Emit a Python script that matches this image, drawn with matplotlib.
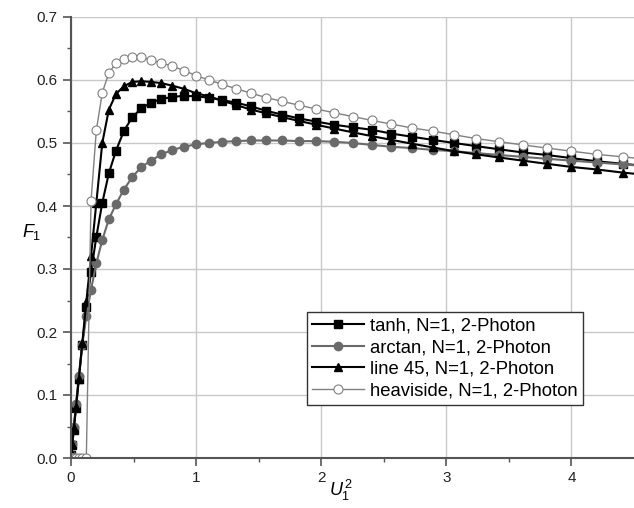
import numpy as np
import matplotlib
matplotlib.use("Agg")
import matplotlib.pyplot as plt

plt.rcParams['font.family'] = ['Liberation Sans', 'DejaVu Sans']
plt.rcParams['mathtext.fontset'] = 'custom'
plt.rcParams['mathtext.rm'] = 'Liberation Sans'
plt.rcParams['mathtext.it'] = 'Liberation Sans:italic'

# x = U1^2 with U1 sampled every 0.05
u1 = np.arange(44) * 0.05
x = u1 ** 2

tanh = [0, 0.005, 0.02, 0.045, 0.08, 0.125, 0.18, 0.24, 0.295, 0.351,
        0.405, 0.452, 0.488, 0.519, 0.541, 0.555, 0.564, 0.570, 0.573, 0.575,
        0.574, 0.572, 0.568, 0.564, 0.558, 0.551, 0.545, 0.539, 0.534, 0.529,
        0.525, 0.521, 0.515, 0.510, 0.505, 0.500, 0.495, 0.490, 0.485, 0.481,
        0.476, 0.471, 0.467, 0.463]
arctan = [0, 0.005, 0.022, 0.05, 0.085, 0.13, 0.18, 0.225, 0.267, 0.309,
          0.346, 0.379, 0.403, 0.426, 0.446, 0.462, 0.472, 0.482, 0.489, 0.494,
          0.498, 0.500, 0.502, 0.503, 0.504, 0.504, 0.504, 0.503, 0.503, 0.502,
          0.500, 0.497, 0.494, 0.492, 0.489, 0.487, 0.484, 0.481, 0.478, 0.475,
          0.472, 0.469, 0.466, 0.463]
line45 = [0, 0.01, 0.023, 0.047, 0.081, 0.126, 0.182, 0.248, 0.32, 0.405,
          0.50, 0.553, 0.578, 0.590, 0.597, 0.598, 0.597, 0.595, 0.591, 0.586,
          0.579, 0.574, 0.567, 0.560, 0.553, 0.547, 0.541, 0.535, 0.529, 0.523,
          0.517, 0.511, 0.505, 0.499, 0.493, 0.487, 0.482, 0.477, 0.472, 0.467,
          0.462, 0.458, 0.453, 0.449]
heaviside = [0, 0, 0, 0, 0, 0, 0, 0, 0.408, 0.52,
             0.58, 0.611, 0.627, 0.634, 0.637, 0.636, 0.632, 0.627, 0.622, 0.615,
             0.607, 0.600, 0.593, 0.586, 0.579, 0.572, 0.566, 0.560, 0.554, 0.548,
             0.542, 0.536, 0.530, 0.524, 0.519, 0.513, 0.507, 0.502, 0.497, 0.492,
             0.487, 0.482, 0.478, 0.474]

labels = ["tanh, N=1, 2-Photon", "arctan, N=1, 2-Photon",
          "line 45, N=1, 2-Photon", "heaviside, N=1, 2-Photon"]

fig = plt.figure(figsize=(6.34, 5.08), dpi=100)
ax = fig.add_axes([71/634, 50/508, 563/634, 441/508])

ax.plot(x, tanh, color='black', lw=1.5, marker='s', ms=5.5,
        mfc='black', mec='black', label=labels[0])
ax.plot(x, arctan, color='#6a6a6a', lw=1.5, marker='o', ms=6,
        mfc='#6a6a6a', mec='#6a6a6a', label=labels[1])
ax.plot(x, line45, color='black', lw=1.5, marker='^', ms=6,
        mfc='black', mec='black', label=labels[2])
ax.plot(x, heaviside, color='#808080', lw=1.0, marker='o', ms=6.5,
        mfc='white', mec='#808080', mew=0.8, label=labels[3])

ax.set_xlim(0, 4.5)
ax.set_ylim(0, 0.7)
ax.set_xticks([0, 1, 2, 3, 4])
ax.set_xticks(np.arange(0.5, 4.5, 1.0), minor=True)
ax.set_yticks(np.arange(0, 0.71, 0.1))
ax.set_yticks(np.arange(0.05, 0.7, 0.1), minor=True)
ax.set_yticklabels(["%.1f" % v for v in np.arange(0, 0.71, 0.1)])
ax.grid(True, which='major', color='#c8c8c8', lw=1.0)
ax.set_axisbelow(True)

for s in ['top', 'right']:
    ax.spines[s].set_visible(False)
for s in ['left', 'bottom']:
    ax.spines[s].set_color('#555555')
    ax.spines[s].set_linewidth(1.5)
ax.tick_params(which='major', direction='out', length=6, width=1.2,
               color='#555555', labelsize=11, labelcolor='#222222')
ax.tick_params(which='minor', direction='out', length=3, width=1.0,
               color='#555555')

ax.set_ylabel(r'$F_1$', fontsize=13, rotation=0, labelpad=12)
ax.yaxis.set_label_coords(-0.07, 0.49)
ax.set_xlabel(r'$U_1^{\,2}$', fontsize=13)
ax.xaxis.set_label_coords(0.48, -0.045)

leg = ax.legend(loc='upper left', bbox_to_anchor=(0.419, 0.331),
                borderaxespad=0, fontsize=13.3, handlelength=2.8,
                handletextpad=0.3, labelspacing=0.25, borderpad=0.3,
                fancybox=False, framealpha=1, edgecolor='#333333')
leg.get_frame().set_linewidth(1.0)

plt.savefig('out.png', dpi=100)
